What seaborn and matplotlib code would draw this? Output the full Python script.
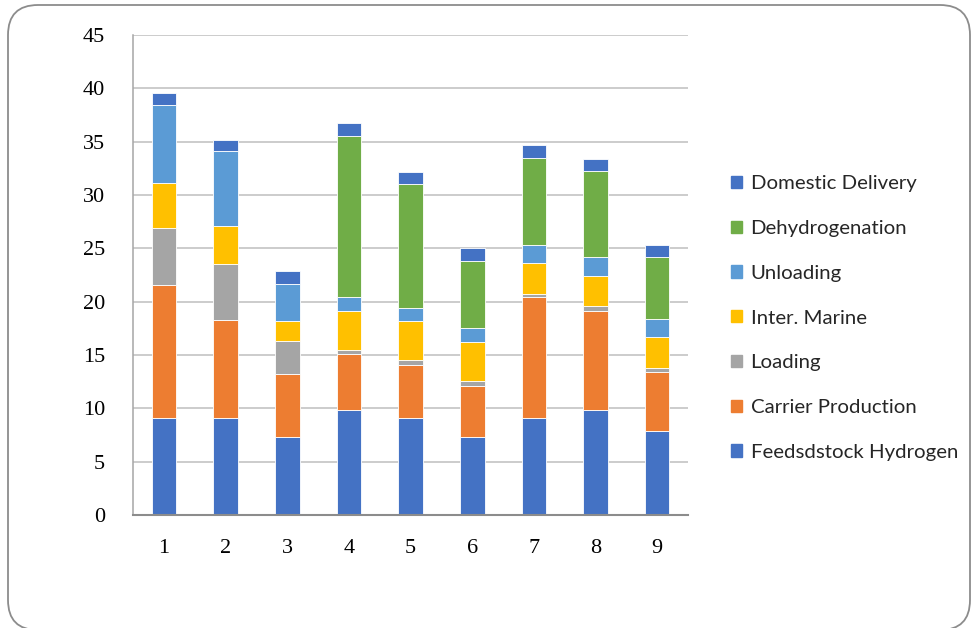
import numpy as np
import pandas as pd
import matplotlib
matplotlib.use("Agg")
import matplotlib.pyplot as plt
import matplotlib.patches as mpatches
import seaborn as sns

# 데이터
cases = ["1", "2", "3", "4", "5", "6", "7", "8", "9"]
feedstock_hydrogen = [9.1, 9.1, 7.3, 9.85, 9.1, 7.3, 9.1, 9.85, 7.85]
carrier_production = [12.5, 9.2, 5.9, 5.2, 5.0, 4.8, 11.3, 9.3, 5.6]
loading = [5.3, 5.2, 3.1, 0.4, 0.4, 0.45, 0.3, 0.4, 0.3]
inter_marine = [4.2, 3.6, 1.85, 3.65, 3.65, 3.65, 2.95, 2.9, 2.9]
unloading = [7.3, 7.0, 3.55, 1.3, 1.3, 1.3, 1.7, 1.7, 1.7]
dehydrogenation = [0, 0, 0, 15.15, 11.55, 6.3, 8.1, 8.1, 5.8]
domestic_delivery = [1.2, 1.1, 1.2, 1.2, 1.15, 1.2, 1.2, 1.15, 1.2]

series = [
    ("Feedsdstock Hydrogen", feedstock_hydrogen, "#4472C4"),
    ("Carrier Production", carrier_production, "#ED7D31"),
    ("Loading", loading, "#A5A5A5"),
    ("Inter. Marine", inter_marine, "#FFC000"),
    ("Unloading", unloading, "#5B9BD5"),
    ("Dehydrogenation", dehydrogenation, "#70AD47"),
    ("Domestic Delivery", domestic_delivery, "#4472C4"),
]

sns.set_style("white")
plt.rcParams["font.family"] = ["Liberation Serif", "DejaVu Serif"]

fig = plt.figure(figsize=(9.74, 6.28), dpi=100)
ax = fig.add_axes([133 / 974, 1 - 515 / 628, (688 - 133) / 974, (515 - 35) / 628])

# 누적 막대
bottom = np.zeros(len(cases))
handles = []
for name, vals, color in series:
    df = pd.DataFrame({"case": cases, "value": vals})
    sns.barplot(data=df, x="case", y="value", color=color, saturation=1,
                width=0.4, bottom=bottom, ax=ax, edgecolor="white",
                linewidth=0.6, errorbar=None)
    bottom = bottom + np.array(vals)
    handles.append(mpatches.Patch(color=color, label=name))

ax.set_xlim(-0.5, len(cases) - 0.5)
ax.set_ylim(0, 45)
ax.set_yticks(range(0, 46, 5))
ax.set_xlabel("")
ax.set_ylabel("")
ax.yaxis.grid(True, color="#BFBFBF", linewidth=1.1)
ax.set_axisbelow(True)
ax.tick_params(axis="both", length=0, labelsize=16, colors="#000000")
ax.tick_params(axis="y", pad=20)
ax.tick_params(axis="x", pad=17)

for s in ["top", "right"]:
    ax.spines[s].set_visible(False)
ax.spines["left"].set_color("#A6A6A6")
ax.spines["left"].set_linewidth(1.1)
ax.spines["bottom"].set_color("#8C8C8C")
ax.spines["bottom"].set_linewidth(1.5)

# 범례
fig.legend(handles=handles[::-1], loc="center left",
           bbox_to_anchor=(723 / 974, 1 - 318 / 628), frameon=False,
           prop={"family": "Lato", "size": 14.7}, borderaxespad=0,
           labelspacing=1.36, handlelength=0.55, handleheight=0.55,
           handletextpad=0.4, labelcolor="#262626")

# 둥근 테두리
border = mpatches.FancyBboxPatch((0.08, -0.02), 9.62, 6.25,
                                 boxstyle="round,pad=0,rounding_size=0.3",
                                 transform=fig.dpi_scale_trans,
                                 facecolor="none", edgecolor="#8C8C8C",
                                 linewidth=1.3)
fig.patches.append(border)

fig.savefig("out.png", dpi=100)
